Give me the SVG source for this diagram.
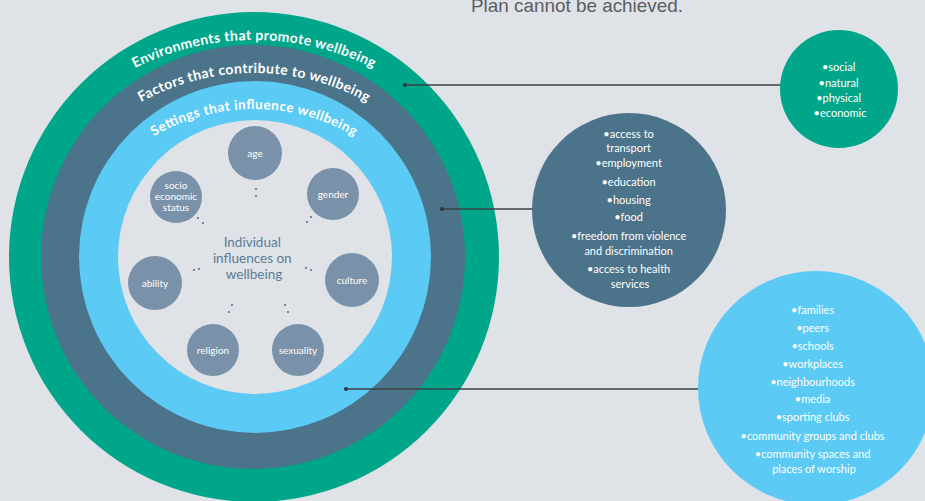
<svg xmlns="http://www.w3.org/2000/svg" width="925" height="501" viewBox="0 0 925 501">
  <defs>
    <style>
      .arc { font-family: Lato, "Noto Sans", sans-serif; font-weight: bold; fill: #ffffff; }
      .node { fill: #7992a9; }
      .nlabel { font-family: Lato, "Noto Sans", sans-serif; font-size: 10px; fill: #ffffff; text-anchor: middle; }
      .list { font-family: Lato, "Noto Sans", sans-serif; font-size: 11px; fill: #ffffff; text-anchor: middle; }
      .conn { stroke: #3b4147; stroke-width: 1.3; fill: none; }
      .cdot { fill: #2f353b; }
      .dot { fill: #557a93; }
    </style>
    <path id="arcG" d="M -13 307 A 267 267 0 0 1 521 307"/>
    <path id="arcD" d="M 20 307 A 234 234 0 0 1 488 307"/>
    <path id="arcL" d="M 56 307 A 198 198 0 0 1 452 307"/>
  </defs>

  <rect x="0" y="0" width="925" height="501" fill="#dfe2e6"/>

  <text x="577" y="12" font-family="Liberation Sans, Arial, sans-serif" font-size="19" fill="#5a5d61" text-anchor="middle" textLength="212" lengthAdjust="spacingAndGlyphs">Plan cannot be achieved.</text>

  <!-- Concentric rings -->
  <g id="ring-environments">
    <circle cx="254" cy="257" r="245" fill="#00a68a"/>
    <text class="arc" font-size="14"><textPath href="#arcG" startOffset="50%" text-anchor="middle" textLength="247" lengthAdjust="spacing">Environments that promote wellbeing</textPath></text>
  </g>
  <g id="ring-factors">
    <circle cx="253" cy="257" r="212" fill="#4b7389"/>
    <text class="arc" font-size="14"><textPath href="#arcD" startOffset="50%" text-anchor="middle" textLength="236" lengthAdjust="spacing">Factors that contribute to wellbeing</textPath></text>
  </g>
  <g id="ring-settings">
    <circle cx="255" cy="257" r="176" fill="#5bcaf5"/>
    <text class="arc" font-size="13.5"><textPath href="#arcL" startOffset="50%" text-anchor="middle" textLength="210" lengthAdjust="spacing">Settings that influence wellbeing</textPath></text>
  </g>
  <g id="core">
    <circle cx="255" cy="257" r="137" fill="#dfe2e6"/>
    <text font-family="Lato, 'Noto Sans', sans-serif" font-size="13.5" fill="#5a7d99" text-anchor="middle">
      <tspan x="254" y="247">Individual</tspan>
      <tspan x="254" y="263">influences on</tspan>
      <tspan x="254" y="279">wellbeing</tspan>
    </text>
  </g>

  <!-- dotted ties between core text and nodes -->
  <g id="dots">
    <circle class="dot" cx="256" cy="189" r="1.1"/><circle class="dot" cx="256" cy="196" r="1.1"/>
    <circle class="dot" cx="311" cy="217" r="1.1"/><circle class="dot" cx="307" cy="222" r="1.1"/>
    <circle class="dot" cx="198" cy="218" r="1.1"/><circle class="dot" cx="203" cy="223" r="1.1"/>
    <circle class="dot" cx="194" cy="270" r="1.1"/><circle class="dot" cx="199" cy="269" r="1.1"/>
    <circle class="dot" cx="306" cy="268" r="1.1"/><circle class="dot" cx="311" cy="270" r="1.1"/>
    <circle class="dot" cx="232" cy="305" r="1.1"/><circle class="dot" cx="229" cy="312" r="1.1"/>
    <circle class="dot" cx="285" cy="305" r="1.1"/><circle class="dot" cx="288" cy="312" r="1.1"/>
  </g>

  <g id="node-age">
    <circle class="node" cx="255" cy="153" r="27"/>
    <text class="nlabel" x="255" y="157">age</text>
  </g>
  <g id="node-gender">
    <circle class="node" cx="333" cy="194" r="26"/>
    <text class="nlabel" x="333" y="198">gender</text>
  </g>
  <g id="node-ses">
    <circle class="node" cx="176" cy="197" r="26"/>
    <text class="nlabel"><tspan x="176" y="189">socio</tspan><tspan x="176" y="200">economic</tspan><tspan x="176" y="211">status</tspan></text>
  </g>
  <g id="node-ability">
    <circle class="node" cx="155" cy="283" r="27"/>
    <text class="nlabel" x="155" y="287">ability</text>
  </g>
  <g id="node-culture">
    <circle class="node" cx="352" cy="280" r="27"/>
    <text class="nlabel" x="352" y="284">culture</text>
  </g>
  <g id="node-religion">
    <circle class="node" cx="213" cy="350" r="26"/>
    <text class="nlabel" x="213" y="354">religion</text>
  </g>
  <g id="node-sexuality">
    <circle class="node" cx="298" cy="350" r="26"/>
    <text class="nlabel" x="298" y="354">sexuality</text>
  </g>

  <!-- connectors -->
  <g id="connectors">
    <line class="conn" x1="405" y1="85" x2="781" y2="85"/>
    <circle class="cdot" cx="405" cy="85" r="2"/>
    <line class="conn" x1="442" y1="209" x2="533" y2="209"/>
    <circle class="cdot" cx="442" cy="209" r="2"/>
    <line class="conn" x1="346" y1="389" x2="699" y2="389"/>
    <circle class="cdot" cx="346" cy="389" r="2"/>
  </g>

  <g id="env-detail">
    <circle cx="839" cy="89" r="59" fill="#00a68a"/>
    <text class="list">
      <tspan x="840" y="71">•social</tspan>
      <tspan x="840" y="87">•natural</tspan>
      <tspan x="840" y="102">•physical</tspan>
      <tspan x="840" y="117">•economic</tspan>
    </text>
  </g>

  <g id="factors-detail">
    <circle cx="629" cy="210" r="97" fill="#4b7389"/>
    <text class="list">
      <tspan x="630" y="138">•access to</tspan>
      <tspan x="630" y="152">transport</tspan>
      <tspan x="630" y="167">•employment</tspan>
      <tspan x="630" y="186">•education</tspan>
      <tspan x="630" y="204">•housing</tspan>
      <tspan x="630" y="221">•food</tspan>
      <tspan x="630" y="240">•freedom from violence</tspan>
      <tspan x="630" y="255">and discrimination</tspan>
      <tspan x="630" y="273">•access to health</tspan>
      <tspan x="630" y="288">services</tspan>
    </text>
  </g>

  <g id="settings-detail">
    <ellipse cx="816" cy="388" rx="118" ry="117" fill="#5bcaf5"/>
    <text class="list">
      <tspan x="814" y="314">•families</tspan>
      <tspan x="814" y="332">•peers</tspan>
      <tspan x="814" y="350">•schools</tspan>
      <tspan x="814" y="368">•workplaces</tspan>
      <tspan x="814" y="386">•neighbourhoods</tspan>
      <tspan x="814" y="403">•media</tspan>
      <tspan x="814" y="421">•sporting clubs</tspan>
      <tspan x="814" y="440">•community groups and clubs</tspan>
      <tspan x="814" y="458">•community spaces and</tspan>
      <tspan x="814" y="473">places of worship</tspan>
    </text>
  </g>
</svg>
